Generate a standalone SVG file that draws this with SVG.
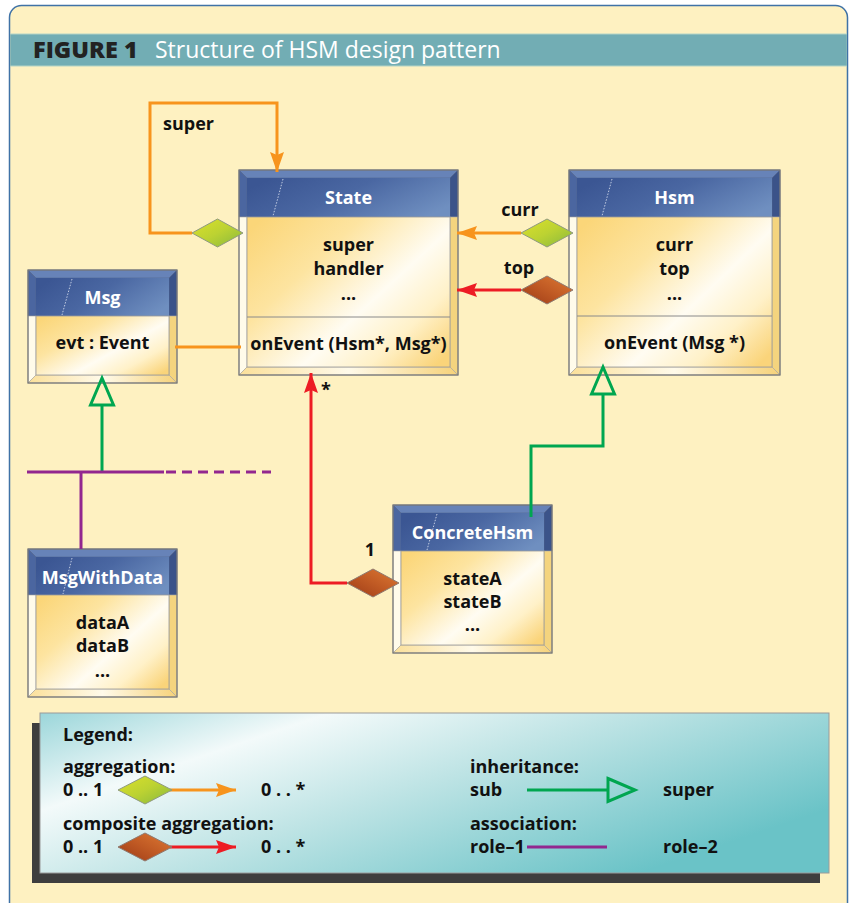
<svg xmlns="http://www.w3.org/2000/svg" width="851" height="903" viewBox="0 0 851 903">
<defs>
<linearGradient id="gHdr" x1="0" y1="0.3" x2="1" y2="0.7"><stop offset="0" stop-color="#3b5693"/><stop offset="0.45" stop-color="#4a67a2"/><stop offset="1" stop-color="#6f8fc0"/></linearGradient>
<linearGradient id="gBody" x1="0" y1="0.1" x2="1" y2="0.9"><stop offset="0" stop-color="#fbd679"/><stop offset="0.3" stop-color="#fde4a0"/><stop offset="0.6" stop-color="#fffcf2"/><stop offset="0.8" stop-color="#fff1c8"/><stop offset="1" stop-color="#fad47a"/></linearGradient>
<linearGradient id="gBot" x1="0" y1="0" x2="1" y2="0"><stop offset="0" stop-color="#fbe09a"/><stop offset="0.5" stop-color="#fffaea"/><stop offset="1" stop-color="#f6d27a"/></linearGradient>
<linearGradient id="gAgg" x1="0" y1="0" x2="1" y2="1"><stop offset="0" stop-color="#dbe12a"/><stop offset="0.5" stop-color="#bcd232"/><stop offset="1" stop-color="#86b83e"/></linearGradient>
<linearGradient id="gComp" x1="1" y1="0" x2="0" y2="1"><stop offset="0" stop-color="#de7a34"/><stop offset="0.5" stop-color="#c05a24"/><stop offset="1" stop-color="#9c3a16"/></linearGradient>
<linearGradient id="gLeg" x1="0" y1="0" x2="1" y2="0.6"><stop offset="0" stop-color="#9bd6da"/><stop offset="0.27" stop-color="#f3fafa"/><stop offset="0.55" stop-color="#bfe4e5"/><stop offset="1" stop-color="#6ac3c7"/></linearGradient>
<marker id="aOr" markerUnits="userSpaceOnUse" markerWidth="22" markerHeight="16" refX="20" refY="7" orient="auto" overflow="visible"><path d="M0,0 L20,7 L0,14 L3,7 z" fill="#f7941d"/></marker>
<marker id="aRd" markerUnits="userSpaceOnUse" markerWidth="22" markerHeight="16" refX="20" refY="7" orient="auto" overflow="visible"><path d="M0,0 L20,7 L0,14 L3,7 z" fill="#ed1c24"/></marker>
<marker id="aInh" markerUnits="userSpaceOnUse" markerWidth="32" markerHeight="28" refX="0" refY="0" orient="auto" overflow="visible"><path d="M0,-11.5 L27,0 L0,11.5 z" fill="none" stroke="#00a650" stroke-width="3" stroke-linejoin="miter"/></marker>
</defs>
<style>
.ht{fill:#6783b8;stroke:#50658f;stroke-width:0.6}
.hl{fill:#4b66a0;stroke:#50658f;stroke-width:0.6}
.hr{fill:#3b5389;stroke:#50658f;stroke-width:0.6}
.hd{fill:url(#gHdr)}
.bl{fill:#fffbea;stroke:#a5a5a5;stroke-width:0.6}
.br{fill:#f4d47e;stroke:#a5a5a5;stroke-width:0.6}
.bb{fill:url(#gBot);stroke:#a5a5a5;stroke-width:0.6}
.bd{fill:url(#gBody);stroke:#9a9a9a;stroke-width:0.8}
.fr{fill:none;stroke:#7a7a7a;stroke-width:1.3}
.dv{stroke:#8a8a8a;stroke-width:1}
.dt{stroke:#dfe6f3;stroke-width:0.8;stroke-dasharray:1.5 1.5}
.t{font-family:"Open Sans","Liberation Sans",sans-serif;font-weight:700;font-size:18px;fill:#111;text-anchor:middle}
.tl{text-anchor:start}
.tw{fill:#fff}
.c{fill:none;stroke-width:3}
.or{stroke:#f7941d}
.rd{stroke:#ed1c24}
.gr{stroke:#00a650}
.pu{stroke:#92278f}
.agg{fill:url(#gAgg);stroke:#8f9a80;stroke-width:1}
.cmp{fill:url(#gComp);stroke:#8f7a70;stroke-width:1}
</style>
<rect x="0" y="0" width="851" height="903" fill="#ffffff"/>
<rect x="9.5" y="5.5" width="838" height="930" rx="12" fill="#fef1c1" stroke="#3f72a6" stroke-width="1.5"/>
<rect x="10.3" y="34" width="836.5" height="32" fill="#72adb4"/>
<line x1="10.3" y1="34" x2="846.8" y2="34" stroke="#b4d4c6" stroke-width="1"/>
<line x1="10.3" y1="66" x2="846.8" y2="66" stroke="#b4d4c6" stroke-width="1"/>
<text x="33" y="58" font-family="Open Sans,'Liberation Sans',sans-serif" font-weight="800" font-size="23.5" fill="#222">FIGURE 1</text>
<text x="155" y="58" font-family="Open Sans,'Liberation Sans',sans-serif" font-weight="400" font-size="23" fill="#fff">Structure of HSM design pattern</text>

<g id="node-state">
<polygon class="ht" points="239,170 458,170 450,178 247,178"/>
<polygon class="hl" points="239,170 247,178 247,217 239,217"/>
<polygon class="hr" points="458,170 450,178 450,217 458,217"/>
<rect class="hd" x="247" y="178" width="203" height="39"/>
<line class="dt" x1="283" y1="179" x2="273" y2="216"/>
<polygon class="bl" points="239,217 247,217 247,367 239,375"/>
<polygon class="br" points="458,217 450,217 450,367 458,375"/>
<polygon class="bb" points="239,375 247,367 450,367 458,375"/>
<rect class="bd" x="247" y="217" width="203" height="150"/>
<line class="dv" x1="247" y1="317" x2="450" y2="317"/>
<rect class="fr" x="239" y="170" width="219" height="205"/>
<text class="t tw" x="348.5" y="204">State</text>
<text class="t" x="348.5" y="251">super</text>
<text class="t" x="348.5" y="275">handler</text>
<text class="t" x="348.5" y="300">...</text>
<text class="t" x="348.5" y="350">onEvent (Hsm*, Msg*)</text>
</g>

<g id="node-hsm">
<polygon class="ht" points="569,170 780,170 772,178 577,178"/>
<polygon class="hl" points="569,170 577,178 577,217 569,217"/>
<polygon class="hr" points="780,170 772,178 772,217 780,217"/>
<rect class="hd" x="577" y="178" width="195" height="39"/>
<line class="dt" x1="612" y1="179" x2="602" y2="216"/>
<polygon class="bl" points="569,217 577,217 577,367 569,375"/>
<polygon class="br" points="780,217 772,217 772,367 780,375"/>
<polygon class="bb" points="569,375 577,367 772,367 780,375"/>
<rect class="bd" x="577" y="217" width="195" height="150"/>
<line class="dv" x1="577" y1="316" x2="772" y2="316"/>
<rect class="fr" x="569" y="170" width="211" height="205"/>
<text class="t tw" x="674.5" y="204">Hsm</text>
<text class="t" x="674.5" y="251">curr</text>
<text class="t" x="674.5" y="275">top</text>
<text class="t" x="674.5" y="300">...</text>
<text class="t" x="674.5" y="349">onEvent (Msg *)</text>
</g>

<g id="node-msg">
<polygon class="ht" points="28,270 177,270 169,278 36,278"/>
<polygon class="hl" points="28,270 36,278 36,316 28,316"/>
<polygon class="hr" points="177,270 169,278 169,316 177,316"/>
<rect class="hd" x="36" y="278" width="133" height="38"/>
<line class="dt" x1="72" y1="279" x2="62" y2="315"/>
<polygon class="bl" points="28,316 36,316 36,375 28,383"/>
<polygon class="br" points="177,316 169,316 169,375 177,383"/>
<polygon class="bb" points="28,383 36,375 169,375 177,383"/>
<rect class="bd" x="36" y="316" width="133" height="59"/>
<rect class="fr" x="28" y="270" width="149" height="113"/>
<text class="t tw" x="102.5" y="304">Msg</text>
<text class="t" x="102.5" y="349">evt : Event</text>
</g>

<g id="node-msgwithdata">
<polygon class="ht" points="28,549 177,549 169,557 36,557"/>
<polygon class="hl" points="28,549 36,557 36,595 28,595"/>
<polygon class="hr" points="177,549 169,557 169,595 177,595"/>
<rect class="hd" x="36" y="557" width="133" height="38"/>
<line class="dt" x1="72" y1="558" x2="63" y2="594"/>
<polygon class="bl" points="28,595 36,595 36,689 28,697"/>
<polygon class="br" points="177,595 169,595 169,689 177,697"/>
<polygon class="bb" points="28,697 36,689 169,689 177,697"/>
<rect class="bd" x="36" y="595" width="133" height="94"/>
<rect class="fr" x="28" y="549" width="149" height="148"/>
<text class="t tw" x="102.5" y="584">MsgWithData</text>
<text class="t" x="102.5" y="629">dataA</text>
<text class="t" x="102.5" y="652">dataB</text>
<text class="t" x="102.5" y="677">...</text>
</g>

<g id="node-concretehsm">
<polygon class="ht" points="393,505 552,505 544,513 401,513"/>
<polygon class="hl" points="393,505 401,513 401,551 393,551"/>
<polygon class="hr" points="552,505 544,513 544,551 552,551"/>
<rect class="hd" x="401" y="513" width="143" height="38"/>
<line class="dt" x1="437" y1="514" x2="427" y2="550"/>
<polygon class="bl" points="393,551 401,551 401,645 393,653"/>
<polygon class="br" points="552,551 544,551 544,645 552,653"/>
<polygon class="bb" points="393,653 401,645 544,645 552,653"/>
<rect class="bd" x="401" y="551" width="143" height="94"/>
<rect class="fr" x="393" y="505" width="159" height="148"/>
<text class="t tw" x="472.5" y="539">ConcreteHsm</text>
<text class="t" x="472.5" y="585">stateA</text>
<text class="t" x="472.5" y="608">stateB</text>
<text class="t" x="472.5" y="631">...</text>
</g>

<g id="connectors">
<polyline class="c or" points="192,233 150,233 150,103 277,103 277,172" marker-end="url(#aOr)"/>
<polygon class="agg" points="192,233 217.5,219 243,233 217.5,247"/>
<text class="t tl" x="163" y="130">super</text>
<line class="c or" x1="521" y1="233" x2="457" y2="233" marker-end="url(#aOr)"/>
<polygon class="agg" points="521,233 547,219 573,233 547,247"/>
<text class="t" x="520" y="216">curr</text>
<line class="c rd" x1="521" y1="290" x2="457" y2="290" marker-end="url(#aRd)"/>
<polygon class="cmp" points="521,290 547,276 573,290 547,304"/>
<text class="t" x="519" y="274">top</text>
<line class="c or" x1="175" y1="347" x2="241" y2="347"/>
<polyline class="c rd" points="347,583 311,583 311,373" marker-end="url(#aRd)"/>
<polygon class="cmp" points="347,583 373,569 399,583 373,597"/>
<text class="t" x="326" y="396">*</text>
<text class="t" x="370" y="556">1</text>
<polyline class="c gr" points="531,517 531,446 603,446 603,394" marker-end="url(#aInh)"/>
<line class="c gr" x1="102" y1="472" x2="102" y2="405" marker-end="url(#aInh)"/>
<line class="c pu" x1="27" y1="472" x2="164" y2="472"/>
<line class="c pu" x1="166" y1="472" x2="271" y2="472" stroke-dasharray="10 6"/>
<line class="c pu" x1="81" y1="472" x2="81" y2="549"/>
</g>

<g id="legend">
<rect x="32" y="723" width="788" height="160" fill="#3e3e3e"/>
<rect x="40" y="713" width="789" height="160" fill="url(#gLeg)" stroke="#9a9a9a" stroke-width="1"/>
<text class="t tl" x="63" y="741">Legend:</text>
<text class="t tl" x="63" y="773">aggregation:</text>
<text class="t tl" x="63" y="796">0 .. 1</text>
<line class="c or" x1="170" y1="790" x2="236" y2="790" marker-end="url(#aOr)"/>
<polygon class="agg" points="118,790 145,776 172,790 145,804"/>
<text class="t tl" x="261" y="796">0 . . *</text>
<text class="t tl" x="63" y="830">composite aggregation:</text>
<text class="t tl" x="63" y="853">0 .. 1</text>
<line class="c rd" x1="170" y1="847" x2="236" y2="847" marker-end="url(#aRd)"/>
<polygon class="cmp" points="118,847 145,833 172,847 145,861"/>
<text class="t tl" x="261" y="853">0 . . *</text>
<text class="t tl" x="470" y="773">inheritance:</text>
<text class="t tl" x="470" y="796">sub</text>
<line class="c gr" x1="527" y1="790" x2="608" y2="790" marker-end="url(#aInh)"/>
<text class="t tl" x="663" y="796">super</text>
<text class="t tl" x="470" y="830">association:</text>
<text class="t tl" x="470" y="853">role–1</text>
<line class="c pu" x1="527" y1="847" x2="607" y2="847"/>
<text class="t tl" x="663" y="853">role–2</text>
</g>
</svg>
